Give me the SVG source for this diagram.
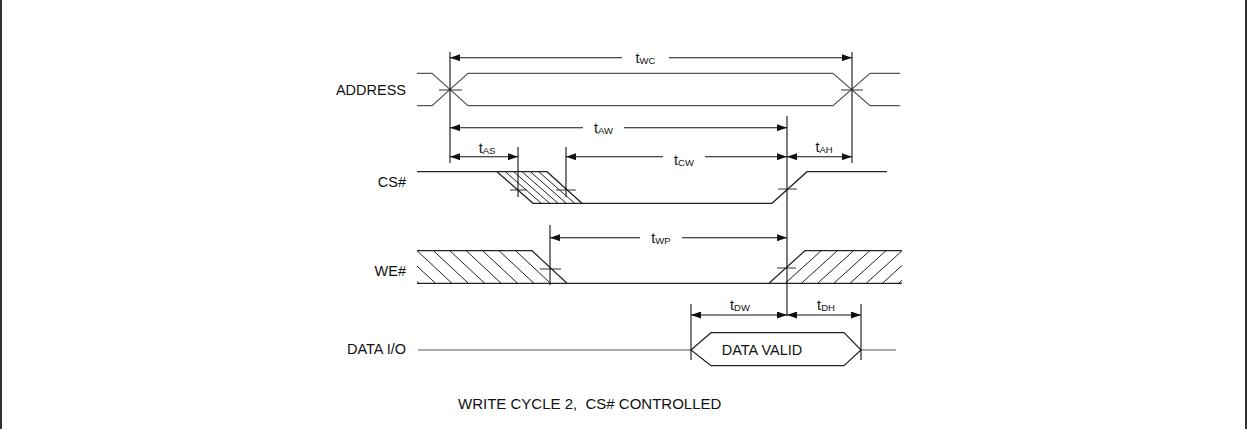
<svg xmlns="http://www.w3.org/2000/svg" width="1250" height="429" viewBox="0 0 1250 429">
<style>
.sig{fill:none;stroke:#222;stroke-width:1.2}
.addr{fill:none;stroke:#555;stroke-width:1.2}
.ref{fill:none;stroke:#111;stroke-width:1.1}
.tick{fill:none;stroke:#333;stroke-width:1}
.dim{fill:none;stroke:#111;stroke-width:1.1}
.hatch{fill:none;stroke:#222;stroke-width:1}
.lbl{font-family:"Liberation Sans",Arial,sans-serif;font-size:14.5px;fill:#111}
.cap{font-family:"Liberation Sans",Arial,sans-serif;font-size:15px;fill:#111}
.t{font-family:"Liberation Sans",Arial,sans-serif;font-size:14.5px;fill:#111;text-anchor:middle}
.sub{font-size:9.5px}
.frame{stroke:#333;stroke-width:2}
</style>
<defs>
<marker id="ah" viewBox="0 0 10 7" refX="10" refY="3.5" markerWidth="10" markerHeight="7" markerUnits="userSpaceOnUse" orient="auto-start-reverse">
<path d="M0,0 L10,3.5 L0,7 z" fill="#111"/>
</marker>
<clipPath id="weL"><rect x="417" y="245" width="160" height="45"/></clipPath>
<clipPath id="weR"><rect x="760" y="245" width="142" height="45"/></clipPath>
<clipPath id="csH"><polygon points="497,171.7 547,171.7 582,203.3 533,203.3"/></clipPath>
</defs>

<g id="frame">
<line class="frame" x1="1" y1="0" x2="1" y2="429"/>
<line class="frame" x1="1246" y1="0" x2="1246" y2="429"/>
</g>

<g id="address">
<text class="lbl" x="406" y="94.5" text-anchor="end">ADDRESS</text>
<path class="addr" d="M417,73.3 H432 L468,105.7 H833 L870,73.3 H900"/>
<path class="addr" d="M417,105.7 H432 L468,73.3 H833 L870,105.7 H900"/>
<line class="tick" x1="439" y1="90" x2="462" y2="90"/>
<line class="tick" x1="841" y1="90" x2="863" y2="90"/>
</g>

<g id="cs">
<text class="lbl" x="406" y="186.5" text-anchor="end">CS#</text>
<path class="sig" d="M417,171.7 H547 L582,203.3 H772 L807,171.7 H887"/>
<path class="sig" d="M497,171.7 L533,203.3 H582"/>
<g clip-path="url(#csH)">
<path class="hatch" d="M505.3,171.7 l36,31.6 M513.7,171.7 l36,31.6 M522,171.7 l36,31.6 M530.3,171.7 l36,31.6 M538.7,171.7 l36,31.6"/>
</g>
<line class="tick" x1="510" y1="190" x2="527" y2="190"/>
<line class="tick" x1="556" y1="190" x2="576" y2="190"/>
<line class="tick" x1="778" y1="189" x2="797" y2="189"/>
</g>

<g id="we">
<text class="lbl" x="406" y="275.5" text-anchor="end">WE#</text>
<path class="sig" d="M417,250.7 H532 L567,283.3"/>
<path class="sig" d="M417,283.3 H902"/>
<path class="sig" d="M769,283.3 L805,250.7 H902"/>
<g clip-path="url(#weL)">
<path class="hatch" d="M384,250.7 l35,32.6 M400.5,250.7 l35,32.6 M417,250.7 l35,32.6 M433.4,250.7 l35,32.6 M449.8,250.7 l35,32.6 M466.2,250.7 l35,32.6 M482.6,250.7 l35,32.6 M499,250.7 l35,32.6 M515.5,250.7 l35,32.6"/>
</g>
<g clip-path="url(#weR)">
<path class="hatch" d="M821.2,250.7 l-36,32.6 M837.4,250.7 l-36,32.6 M853.6,250.7 l-36,32.6 M869.8,250.7 l-36,32.6 M886,250.7 l-36,32.6 M902.2,250.7 l-36,32.6 M918.4,250.7 l-36,32.6 M934.6,250.7 l-36,32.6"/>
</g>
<line class="tick" x1="540" y1="269" x2="561" y2="269"/>
<line class="tick" x1="777" y1="268" x2="796" y2="268"/>
</g>

<g id="data">
<text class="lbl" x="406" y="353.5" text-anchor="end">DATA I/O</text>
<line class="addr" x1="418" y1="350" x2="691" y2="350"/>
<path class="sig" d="M691,350 L711,332.7 H844 L861,350 L844,365.7 H711 Z"/>
<line class="addr" x1="861" y1="350" x2="896" y2="350"/>
<text class="lbl" x="762" y="355" text-anchor="middle">DATA VALID</text>
</g>

<g id="caption">
<text class="cap" x="458" y="409" xml:space="preserve">WRITE CYCLE 2,  CS# CONTROLLED</text>
</g>

<g id="connectors">
<line class="ref" x1="450" y1="52" x2="450" y2="163"/>
<line class="ref" x1="852" y1="52" x2="852" y2="163"/>
<line class="ref" x1="787" y1="116" x2="787" y2="316"/>
<line class="ref" x1="518" y1="147" x2="518" y2="197"/>
<line class="ref" x1="566" y1="147" x2="566" y2="197"/>
<line class="ref" x1="550" y1="225" x2="550" y2="285"/>
<line class="ref" x1="691" y1="304" x2="691" y2="360"/>
<line class="ref" x1="861" y1="304" x2="861" y2="360"/>

<line class="dim" x1="622" y1="57.7" x2="450" y2="57.7" marker-end="url(#ah)"/>
<line class="dim" x1="669" y1="57.7" x2="852" y2="57.7" marker-end="url(#ah)"/>
<line class="dim" x1="583" y1="127.7" x2="450" y2="127.7" marker-end="url(#ah)"/>
<line class="dim" x1="624" y1="127.7" x2="787" y2="127.7" marker-end="url(#ah)"/>
<line class="dim" x1="450" y1="156.7" x2="518" y2="156.7" marker-start="url(#ah)" marker-end="url(#ah)"/>
<line class="dim" x1="663" y1="156.7" x2="566" y2="156.7" marker-end="url(#ah)"/>
<line class="dim" x1="705" y1="156.7" x2="787" y2="156.7" marker-end="url(#ah)"/>
<line class="dim" x1="787" y1="156.7" x2="852" y2="156.7" marker-start="url(#ah)" marker-end="url(#ah)"/>
<line class="dim" x1="640" y1="237.7" x2="550" y2="237.7" marker-end="url(#ah)"/>
<line class="dim" x1="682" y1="237.7" x2="787" y2="237.7" marker-end="url(#ah)"/>
<line class="dim" x1="691" y1="315" x2="787" y2="315" marker-start="url(#ah)" marker-end="url(#ah)"/>
<line class="dim" x1="787" y1="315" x2="861" y2="315" marker-start="url(#ah)" marker-end="url(#ah)"/>

<text class="t" x="645.5" y="63">t<tspan class="sub" dy="1">WC</tspan></text>
<text class="t" x="603.5" y="133">t<tspan class="sub" dy="1">AW</tspan></text>
<text class="t" x="487" y="153">t<tspan class="sub" dy="1">AS</tspan></text>
<text class="t" x="684" y="165">t<tspan class="sub" dy="1">CW</tspan></text>
<text class="t" x="824" y="152">t<tspan class="sub" dy="1">AH</tspan></text>
<text class="t" x="661" y="243">t<tspan class="sub" dy="1">WP</tspan></text>
<text class="t" x="740" y="310">t<tspan class="sub" dy="1">DW</tspan></text>
<text class="t" x="826" y="310">t<tspan class="sub" dy="1">DH</tspan></text>
</g>
</svg>
